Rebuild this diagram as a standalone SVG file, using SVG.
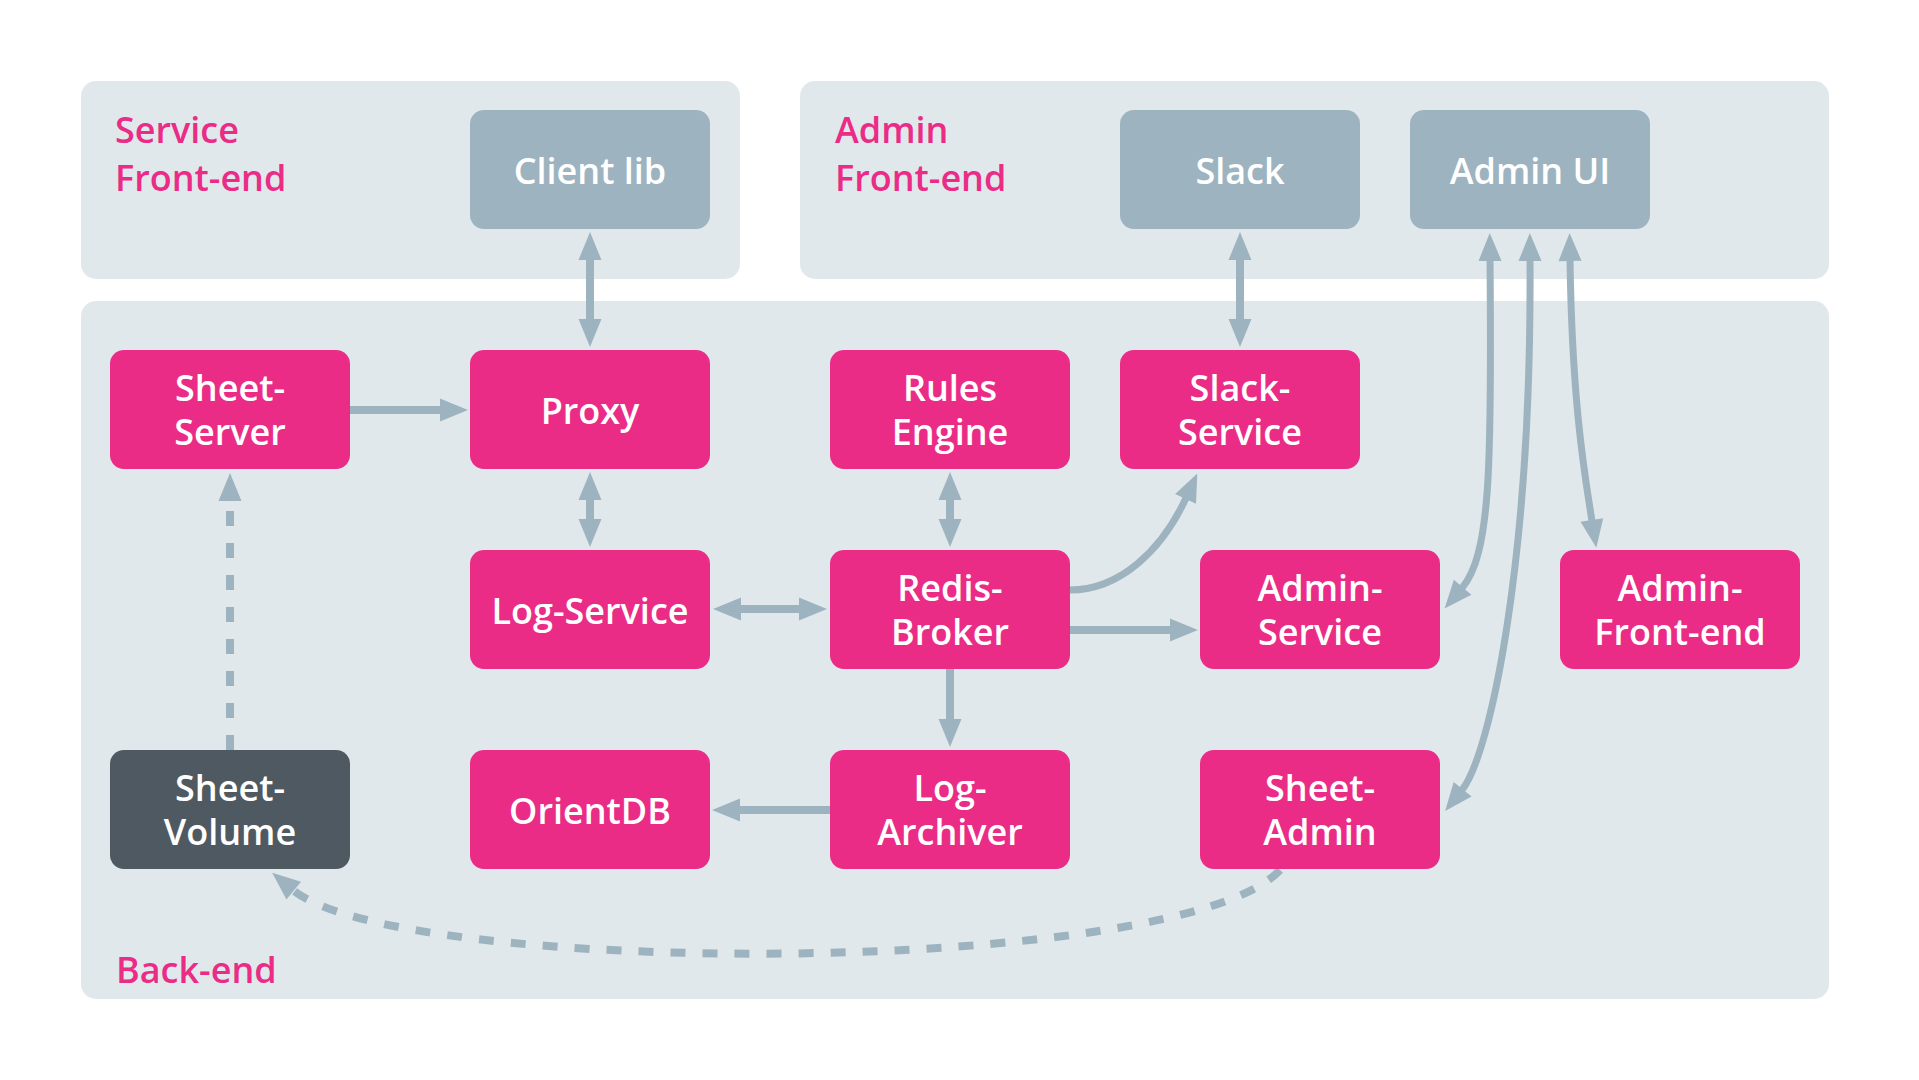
<svg xmlns="http://www.w3.org/2000/svg" width="1919" height="1080" viewBox="0 0 1919 1080">
<defs>
<style>
.panel{fill:#E1E8EC}
.node rect{fill:#EA2C87}
.node.ext rect{fill:#9DB3BF}
.node.dark rect{fill:#4F5961}
.node text{fill:#FFFFFF;font-family:"Open Sans","Noto Sans",sans-serif;font-size:36px;font-weight:600;text-anchor:middle}
.label{fill:#EA2C87;font-family:"Open Sans","Noto Sans",sans-serif;font-size:36px;font-weight:600}
.conn{fill:none;stroke:#9DB4C0;stroke-width:8}
.curve{stroke-width:7}
.dash{stroke-dasharray:15 17}
</style>
<marker id="arrow" viewBox="0 0 28 23" markerUnits="userSpaceOnUse" markerWidth="28" markerHeight="23" refX="1" refY="11.5" orient="auto-start-reverse" overflow="visible">
<path d="M0,0 L28,11.5 L0,23 z" fill="#9DB4C0"/>
</marker>
</defs>
<rect width="1919" height="1080" fill="#FFFFFF"/>

<g id="panels">
<rect class="panel" x="81" y="81" width="659" height="198" rx="15"/>
<rect class="panel" x="800" y="81" width="1029" height="198" rx="15"/>
<rect class="panel" x="81" y="301" width="1748" height="698" rx="15"/>
<text class="label" x="115" y="143">Service</text>
<text class="label" x="115" y="191">Front-end</text>
<text class="label" x="835" y="143">Admin</text>
<text class="label" x="835" y="191">Front-end</text>
<text class="label" x="116" y="983">Back-end</text>
</g>

<g id="connectors">
<line class="conn" x1="590" y1="259" x2="590" y2="320" marker-start="url(#arrow)" marker-end="url(#arrow)"/>
<line class="conn" x1="1240" y1="259" x2="1240" y2="320" marker-start="url(#arrow)" marker-end="url(#arrow)"/>
<line class="conn" x1="350" y1="410" x2="441" y2="410" marker-end="url(#arrow)"/>
<line class="conn" x1="590" y1="499" x2="590" y2="520" marker-start="url(#arrow)" marker-end="url(#arrow)"/>
<line class="conn" x1="950" y1="499" x2="950" y2="520" marker-start="url(#arrow)" marker-end="url(#arrow)"/>
<line class="conn" x1="740" y1="609" x2="800" y2="609" marker-start="url(#arrow)" marker-end="url(#arrow)"/>
<line class="conn" x1="1070" y1="630" x2="1171" y2="630" marker-end="url(#arrow)"/>
<line class="conn" x1="950" y1="669" x2="950" y2="720" marker-end="url(#arrow)"/>
<line class="conn" x1="830" y1="810" x2="739" y2="810" marker-end="url(#arrow)"/>
<path class="conn curve" d="M1070,590 C1120,590 1162,550 1186,498" marker-end="url(#arrow)"/>
<path class="conn curve" d="M1490,260 C1492,470 1490,555 1462,588" marker-start="url(#arrow)" marker-end="url(#arrow)"/>
<path class="conn curve" d="M1530,260 C1532,560 1490,755 1462,790" marker-start="url(#arrow)" marker-end="url(#arrow)"/>
<path class="conn curve" d="M1570,260 C1572,390 1582,460 1592,521" marker-start="url(#arrow)" marker-end="url(#arrow)"/>
<line class="conn dash" x1="230" y1="750" x2="230" y2="500" marker-end="url(#arrow)"/>
<path class="conn dash" d="M1280,870 C1180,978 400,978 293,890" marker-end="url(#arrow)"/>
</g>

<g id="client-lib" class="node ext"><rect x="470" y="110" width="240" height="119" rx="14"/><text x="590" y="184">Client lib</text></g>
<g id="slack" class="node ext"><rect x="1120" y="110" width="240" height="119" rx="14"/><text x="1240" y="184">Slack</text></g>
<g id="admin-ui" class="node ext"><rect x="1410" y="110" width="240" height="119" rx="14"/><text x="1530" y="184">Admin UI</text></g>

<g id="sheet-server" class="node"><rect x="110" y="350" width="240" height="119" rx="14"/><text x="230" y="401">Sheet-<tspan x="230" y="445">Server</tspan></text></g>
<g id="proxy" class="node"><rect x="470" y="350" width="240" height="119" rx="14"/><text x="590" y="424">Proxy</text></g>
<g id="rules-engine" class="node"><rect x="830" y="350" width="240" height="119" rx="14"/><text x="950" y="401">Rules<tspan x="950" y="445">Engine</tspan></text></g>
<g id="slack-service" class="node"><rect x="1120" y="350" width="240" height="119" rx="14"/><text x="1240" y="401">Slack-<tspan x="1240" y="445">Service</tspan></text></g>

<g id="log-service" class="node"><rect x="470" y="550" width="240" height="119" rx="14"/><text x="590" y="624">Log-Service</text></g>
<g id="redis-broker" class="node"><rect x="830" y="550" width="240" height="119" rx="14"/><text x="950" y="601">Redis-<tspan x="950" y="645">Broker</tspan></text></g>
<g id="admin-service" class="node"><rect x="1200" y="550" width="240" height="119" rx="14"/><text x="1320" y="601">Admin-<tspan x="1320" y="645">Service</tspan></text></g>
<g id="admin-front-end" class="node"><rect x="1560" y="550" width="240" height="119" rx="14"/><text x="1680" y="601">Admin-<tspan x="1680" y="645">Front-end</tspan></text></g>

<g id="sheet-volume" class="node dark"><rect x="110" y="750" width="240" height="119" rx="14"/><text x="230" y="801">Sheet-<tspan x="230" y="845">Volume</tspan></text></g>
<g id="orientdb" class="node"><rect x="470" y="750" width="240" height="119" rx="14"/><text x="590" y="824">OrientDB</text></g>
<g id="log-archiver" class="node"><rect x="830" y="750" width="240" height="119" rx="14"/><text x="950" y="801">Log-<tspan x="950" y="845">Archiver</tspan></text></g>
<g id="sheet-admin" class="node"><rect x="1200" y="750" width="240" height="119" rx="14"/><text x="1320" y="801">Sheet-<tspan x="1320" y="845">Admin</tspan></text></g>
</svg>
